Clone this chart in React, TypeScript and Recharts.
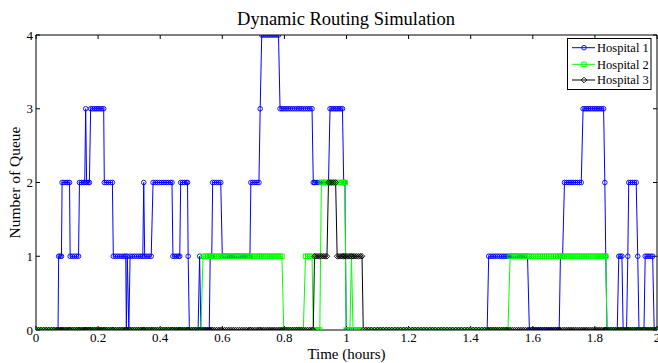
import React from 'react';
import { LineChart, Line, XAxis, YAxis } from 'recharts';

// Event times (hours)
const times = [
  0, 0.008, 0.016, 0.025, 0.033, 0.041, 0.05, 0.058, 0.066, 0.071,
  0.073, 0.078, 0.082, 0.084, 0.09, 0.097, 0.103, 0.108, 0.11, 0.117, 0.124, 0.131, 0.137, 0.14, 0.146, 0.152, 0.157, 0.16, 0.163, 0.168, 0.172,
  0.176, 0.182, 0.188, 0.194, 0.2, 0.206, 0.212, 0.218, 0.22, 0.226, 0.233, 0.24, 0.246, 0.249, 0.256, 0.263, 0.27, 0.277, 0.284, 0.289,
  0.291, 0.294, 0.299, 0.303, 0.31, 0.317, 0.324, 0.331, 0.338, 0.344, 0.347, 0.35, 0.357, 0.364, 0.371,
  0.377, 0.384, 0.391, 0.398, 0.405, 0.412, 0.419, 0.426, 0.433, 0.438, 0.441, 0.447, 0.453, 0.459, 0.463, 0.466, 0.472, 0.478, 0.484, 0.488, 0.49,
  0.494, 0.501, 0.508, 0.515, 0.522, 0.527, 0.531, 0.538, 0.545, 0.552, 0.558, 0.561, 0.566,
  0.569, 0.575, 0.582, 0.589, 0.595, 0.6, 0.607, 0.614, 0.621, 0.628, 0.635, 0.642, 0.649, 0.656, 0.663, 0.67, 0.677, 0.684, 0.689,
  0.692, 0.698, 0.705, 0.712, 0.718, 0.722, 0.727, 0.733, 0.739, 0.745, 0.751, 0.757, 0.763, 0.769, 0.775, 0.781,
  0.786, 0.792, 0.798, 0.805, 0.812, 0.819, 0.826, 0.833, 0.84, 0.847, 0.854, 0.861, 0.868, 0.875, 0.882, 0.889,
  0.893, 0.897, 0.902, 0.908, 0.914, 0.919, 0.925, 0.931, 0.937, 0.942,
  0.947, 0.953, 0.959, 0.965, 0.97, 0.976, 0.982, 0.987, 0.991, 0.995, 0.999, 1.005, 1.011, 1.016, 1.021, 1.027, 1.033, 1.039, 1.045, 1.05,
  1.054, 1.062, 1.071, 1.08, 1.09, 1.1, 1.109, 1.118, 1.128, 1.137,
  1.146, 1.156, 1.165, 1.174, 1.184, 1.193, 1.202, 1.212, 1.221, 1.23,
  1.24, 1.249, 1.258, 1.268, 1.277, 1.286, 1.296, 1.305, 1.314, 1.324,
  1.333, 1.342, 1.352, 1.361, 1.37, 1.38, 1.389, 1.398, 1.408, 1.417,
  1.426, 1.436, 1.445, 1.453,
  1.458, 1.465, 1.472, 1.479, 1.486, 1.493, 1.5, 1.507, 1.514, 1.52, 1.527, 1.534, 1.541, 1.548, 1.555, 1.562, 1.569, 1.576, 1.583,
  1.589, 1.596, 1.603, 1.61, 1.617, 1.624, 1.631, 1.638, 1.645, 1.652, 1.659, 1.666, 1.673, 1.68, 1.685, 1.689, 1.696,
  1.702, 1.708, 1.714, 1.72, 1.726, 1.732, 1.738, 1.744, 1.75, 1.756, 1.762, 1.768, 1.774, 1.78, 1.786, 1.792, 1.798, 1.804, 1.81, 1.816, 1.822, 1.828,
  1.832, 1.835, 1.839, 1.845, 1.852, 1.859, 1.866, 1.872, 1.877, 1.882, 1.887, 1.891, 1.897, 1.902, 1.906, 1.909, 1.915, 1.921, 1.927, 1.933, 1.938, 1.942, 1.948, 1.954, 1.958, 1.962, 1.968, 1.974, 1.98, 1.986, 1.991, 1.996, 2,
];

// Hospital 1 queue
const hospital1 = [
  0, 0, 0, 0, 0, 0, 0, 0, 0, 0,
  1, 1, 1, 2, 2, 2, 2, 2, 1, 1, 1, 1, 1, 2, 2, 2, 2, 3, 2, 2, 2,
  3, 3, 3, 3, 3, 3, 3, 3, 2, 2, 2, 2, 2, 1, 1, 1, 1, 1, 1, 1,
  0, 1, 0, 1, 1, 1, 1, 1, 1, 1, 2, 1, 1, 1, 1,
  2, 2, 2, 2, 2, 2, 2, 2, 2, 2, 1, 1, 1, 1, 1, 2, 2, 2, 2, 2, 1,
  0, 0, 0, 0, 0, 1, 0, 0, 0, 0, 0, 1, 1,
  2, 2, 2, 2, 2, 1, 1, 1, 1, 1, 1, 1, 1, 1, 1, 1, 1, 1, 1,
  2, 2, 2, 2, 2, 3, 4, 4, 4, 4, 4, 4, 4, 4, 4, 4,
  3, 3, 3, 3, 3, 3, 3, 3, 3, 3, 3, 3, 3, 3, 3, 3,
  2, 2, 2, 2, 2, 2, 2, 2, 2, 2,
  3, 3, 3, 3, 3, 3, 3, 3, 2, 2, 0, 0, 0, 0, 0, 0, 0, 0, 0, 0,
  0, 0, 0, 0, 0, 0, 0, 0, 0, 0,
  0, 0, 0, 0, 0, 0, 0, 0, 0, 0,
  0, 0, 0, 0, 0, 0, 0, 0, 0, 0,
  0, 0, 0, 0, 0, 0, 0, 0, 0, 0,
  0, 0, 0, 0,
  1, 1, 1, 1, 1, 1, 1, 1, 1, 1, 1, 1, 1, 1, 1, 1, 1, 1, 1,
  0, 0, 0, 0, 0, 0, 0, 0, 0, 0, 0, 0, 0, 0, 0, 1, 1,
  2, 2, 2, 2, 2, 2, 2, 2, 2, 2, 3, 3, 3, 3, 3, 3, 3, 3, 3, 3, 3, 3,
  2, 1, 0, 0, 0, 0, 0, 0, 1, 1, 1, 0, 0, 0, 1, 2, 2, 2, 2, 2, 1, 0, 0, 0, 0, 1, 1, 1, 1, 1, 0, 0, 0,
];

// Hospital 2 queue
const hospital2 = [
  0, 0, 0, 0, 0, 0, 0, 0, 0, 0,
  0, 0, 0, 0, 0, 0, 0, 0, 0, 0, 0, 0, 0, 0, 0, 0, 0, 0, 0, 0, 0,
  0, 0, 0, 0, 0, 0, 0, 0, 0, 0, 0, 0, 0, 0, 0, 0, 0, 0, 0, 0,
  0, 0, 0, 0, 0, 0, 0, 0, 0, 0, 0, 0, 0, 0, 0,
  0, 0, 0, 0, 0, 0, 0, 0, 0, 0, 0, 0, 0, 0, 0, 0, 0, 0, 0, 0, 0,
  0, 0, 0, 0, 0, 0, 0, 1, 1, 1, 1, 1, 1,
  1, 1, 1, 1, 1, 1, 1, 1, 1, 1, 1, 1, 1, 1, 1, 1, 1, 1, 1,
  1, 1, 1, 1, 1, 1, 1, 1, 1, 1, 1, 1, 1, 1, 1, 1,
  1, 1, 0, 0, 0, 0, 0, 0, 0, 0, 0, 0, 1, 1, 1, 1,
  0, 0, 0, 0, 0, 2, 2, 2, 2, 2,
  2, 2, 2, 2, 2, 2, 2, 2, 2, 2, 0, 0, 0, 1, 0, 0, 0, 0, 0, 0,
  0, 0, 0, 0, 0, 0, 0, 0, 0, 0,
  0, 0, 0, 0, 0, 0, 0, 0, 0, 0,
  0, 0, 0, 0, 0, 0, 0, 0, 0, 0,
  0, 0, 0, 0, 0, 0, 0, 0, 0, 0,
  0, 0, 0, 0,
  0, 0, 0, 0, 0, 0, 0, 0, 0, 0, 1, 1, 1, 1, 1, 1, 1, 1, 1,
  1, 1, 1, 1, 1, 1, 1, 1, 1, 1, 1, 1, 1, 1, 1, 1, 1,
  1, 1, 1, 1, 1, 1, 1, 1, 1, 1, 1, 1, 1, 1, 1, 1, 1, 1, 1, 1, 1, 1,
  1, 1, 0, 0, 0, 0, 0, 0, 0, 0, 0, 0, 0, 0, 0, 0, 0, 0, 0, 0, 0, 0, 0, 0, 0, 0, 0, 0, 0, 0, 0, 0, 0,
];

// Hospital 3 queue
const hospital3 = [
  0, 0, 0, 0, 0, 0, 0, 0, 0, 0,
  0, 0, 0, 0, 0, 0, 0, 0, 0, 0, 0, 0, 0, 0, 0, 0, 0, 0, 0, 0, 0,
  0, 0, 0, 0, 0, 0, 0, 0, 0, 0, 0, 0, 0, 0, 0, 0, 0, 0, 0, 0,
  0, 0, 0, 0, 0, 0, 0, 0, 0, 0, 0, 0, 0, 0, 0,
  0, 0, 0, 0, 0, 0, 0, 0, 0, 0, 0, 0, 0, 0, 0, 0, 0, 0, 0, 0, 0,
  0, 0, 0, 0, 0, 0, 0, 0, 0, 0, 0, 0, 0,
  0, 0, 0, 0, 0, 0, 0, 0, 0, 0, 0, 0, 0, 0, 0, 0, 0, 0, 0,
  0, 0, 0, 0, 0, 0, 0, 0, 0, 0, 0, 0, 0, 0, 0, 0,
  0, 0, 0, 0, 0, 0, 0, 0, 0, 0, 0, 0, 0, 0, 0, 0,
  0, 1, 1, 1, 1, 1, 1, 1, 1, 2,
  2, 2, 2, 2, 1, 1, 1, 1, 1, 1, 1, 1, 1, 1, 1, 1, 1, 1, 1, 1,
  0, 0, 0, 0, 0, 0, 0, 0, 0, 0,
  0, 0, 0, 0, 0, 0, 0, 0, 0, 0,
  0, 0, 0, 0, 0, 0, 0, 0, 0, 0,
  0, 0, 0, 0, 0, 0, 0, 0, 0, 0,
  0, 0, 0, 0,
  0, 0, 0, 0, 0, 0, 0, 0, 0, 0, 0, 0, 0, 0, 0, 0, 0, 0, 0,
  0, 0, 0, 0, 0, 0, 0, 0, 0, 0, 0, 0, 0, 0, 0, 0, 0,
  0, 0, 0, 0, 0, 0, 0, 0, 0, 0, 0, 0, 0, 0, 0, 0, 0, 0, 0, 0, 0, 0,
  0, 0, 0, 0, 0, 0, 0, 0, 0, 0, 0, 0, 0, 0, 0, 0, 0, 0, 0, 0, 0, 0, 0, 0, 0, 0, 0, 0, 0, 0, 0, 0, 0,
];

const xTicks = [0, 0.2, 0.4, 0.6, 0.8, 1, 1.2, 1.4, 1.6, 1.8, 2];
const yTicks = [0, 1, 2, 3, 4];
const seriesNames = ['Hospital 1', 'Hospital 2', 'Hospital 3'];
const seriesColors = ['#0000ff', '#00ff00', '#000000'];
const titleText = 'Dynamic Routing Simulation';
const xLabel = 'Time (hours)';
const yLabel = 'Number of Queue';

const FONT = '"Liberation Serif", "Times New Roman", Times, serif';

const data = times.map((t, i) => ({ t, h1: hospital1[i], h2: hospital2[i], h3: hospital3[i] }));

const circleDot = (p: any) =>
  p.cx == null || p.cy == null ? null : (
    <circle key={`c${p.index}`} cx={p.cx} cy={p.cy} r={2.3} fill="none" stroke={seriesColors[0]} strokeWidth={0.9} />
  );
const squareDot = (p: any) =>
  p.cx == null || p.cy == null ? null : (
    <rect key={`s${p.index}`} x={p.cx - 2.2} y={p.cy - 2.2} width={4.4} height={4.4} fill="none" stroke={seriesColors[1]} strokeWidth={0.9} />
  );
const diamondDot = (p: any) =>
  p.cx == null || p.cy == null ? null : (
    <polygon
      key={`d${p.index}`}
      points={`${p.cx},${p.cy - 2.8} ${p.cx + 2.8},${p.cy} ${p.cx},${p.cy + 2.8} ${p.cx - 2.8},${p.cy}`}
      fill="none"
      stroke={seriesColors[2]}
      strokeWidth={0.9}
    />
  );

const LegendBox = () => (
  <svg width={92} height={53} style={{ position: 'absolute', left: 566, top: 37, overflow: 'visible' }}>
    <rect x={1.5} y={1.5} width={83.5} height={51} fill="#fff" stroke="#000" strokeWidth={1} />
    {seriesNames.map((n, i) => {
      const cy = [10.7, 27.3, 43][i];
      const mx = 18;
      return (
        <g key={n}>
          <line x1={6} x2={29} y1={cy} y2={cy} stroke={seriesColors[i]} strokeWidth={1} />
          {i === 0 && <circle cx={mx} cy={cy} r={2.3} fill="none" stroke={seriesColors[0]} strokeWidth={0.9} />}
          {i === 1 && <rect x={mx - 2.2} y={cy - 2.2} width={4.4} height={4.4} fill="none" stroke={seriesColors[1]} strokeWidth={0.9} />}
          {i === 2 && (
            <polygon
              points={`${mx},${cy - 2.8} ${mx + 2.8},${cy} ${mx},${cy + 2.8} ${mx - 2.8},${cy}`}
              fill="none"
              stroke={seriesColors[2]}
              strokeWidth={0.9}
            />
          )}
          <text x={31} y={cy + 4.2} fontSize={12.5} fontFamily={FONT} fill="#000">
            {n}
          </text>
        </g>
      );
    })}
  </svg>
);

export default function App() {
  return (
    <div style={{ position: 'absolute', left: 0, top: 0, width: 658, height: 363, background: '#fff', fontFamily: FONT }}>
      <div
        style={{
          position: 'absolute',
          left: 196,
          width: 300,
          top: 10,
          textAlign: 'center',
          fontFamily: FONT,
          fontSize: 18.5,
          lineHeight: '18px',
          color: '#000',
          whiteSpace: 'nowrap',
        }}
      >
        {titleText}
      </div>
      <LineChart
        width={658}
        height={363}
        data={data}
        margin={{ top: 34, right: 0, bottom: 0, left: 0 }}
        style={{ fontFamily: FONT }}
      >
        <XAxis
          xAxisId="b"
          dataKey="t"
          type="number"
          domain={[0, 2]}
          ticks={xTicks}
          interval={0}
          allowDataOverflow
          height={33}
          tickSize={-4}
          tickMargin={7}
          axisLine={{ stroke: '#000', strokeWidth: 1 }}
          tickLine={{ stroke: '#000' }}
          tick={{ fill: '#000', fontSize: 13, fontFamily: FONT, style: { fontFamily: FONT } }}
          tickFormatter={(v: number) => String(v)}
          label={{ value: xLabel, position: 'insideBottom', offset: 4, fill: '#000', fontSize: 15, fontFamily: FONT }}
        />
        <XAxis
          xAxisId="top"
          orientation="top"
          dataKey="t"
          type="number"
          domain={[0, 2]}
          ticks={xTicks}
          interval={0}
          allowDataOverflow
          height={1}
          tickSize={-4}
          tickMargin={0}
          axisLine={{ stroke: '#000', strokeWidth: 1 }}
          tickLine={{ stroke: '#000' }}
          tickFormatter={() => ''}
        />
        <YAxis
          yAxisId="l"
          type="number"
          domain={[0, 4]}
          ticks={yTicks}
          interval={0}
          allowDataOverflow
          width={36}
          tickSize={-4}
          tickMargin={7}
          axisLine={{ stroke: '#000', strokeWidth: 1 }}
          tickLine={{ stroke: '#000' }}
          tick={{ fill: '#000', fontSize: 13, fontFamily: FONT, style: { fontFamily: FONT } }}
          label={{ value: yLabel, angle: -90, position: 'center', dx: -4, fill: '#000', fontSize: 15.5, fontFamily: FONT }}
        />
        <YAxis
          yAxisId="r"
          orientation="right"
          type="number"
          domain={[0, 4]}
          ticks={yTicks}
          interval={0}
          allowDataOverflow
          width={1}
          tickSize={-4}
          tickMargin={0}
          axisLine={{ stroke: '#000', strokeWidth: 1 }}
          tickLine={{ stroke: '#000' }}
          tickFormatter={() => ''}
        />
        <Line
          xAxisId="b"
          yAxisId="l"
          dataKey="h1"
          name={seriesNames[0]}
          type="linear"
          stroke={seriesColors[0]}
          strokeWidth={1}
          dot={circleDot}
          activeDot={false}
          isAnimationActive={false}
        />
        <Line
          xAxisId="b"
          yAxisId="l"
          dataKey="h2"
          name={seriesNames[1]}
          type="linear"
          stroke={seriesColors[1]}
          strokeWidth={1}
          dot={squareDot}
          activeDot={false}
          isAnimationActive={false}
        />
        <Line
          xAxisId="b"
          yAxisId="l"
          dataKey="h3"
          name={seriesNames[2]}
          type="linear"
          stroke={seriesColors[2]}
          strokeWidth={1}
          dot={diamondDot}
          activeDot={false}
          isAnimationActive={false}
        />
      </LineChart>
      <LegendBox />
    </div>
  );
}
